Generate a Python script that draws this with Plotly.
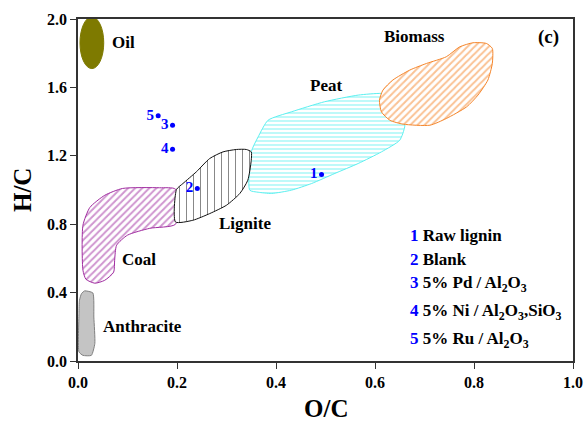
import plotly.graph_objects as go

# ---- Data -----------------------------------------------------------------
# Region outlines (O/C, H/C)
peat_x = [0.347, 0.350, 0.364, 0.384, 0.431, 0.498, 0.566, 0.613, 0.640, 0.660, 0.660, 0.650, 0.613, 0.566, 0.519, 0.472, 0.431, 0.391, 0.364]
peat_y = [0.999, 1.223, 1.311, 1.408, 1.457, 1.516, 1.555, 1.565, 1.555, 1.438, 1.369, 1.291, 1.223, 1.155, 1.097, 1.038, 0.999, 0.980, 0.987]

biomass_x = [0.609, 0.613, 0.630, 0.657, 0.711, 0.744, 0.785, 0.808, 0.828, 0.837, 0.837, 0.825, 0.798, 0.771, 0.744, 0.704, 0.670, 0.636, 0.616]
biomass_y = [1.525, 1.457, 1.408, 1.385, 1.379, 1.418, 1.486, 1.555, 1.643, 1.740, 1.828, 1.857, 1.861, 1.837, 1.779, 1.740, 1.701, 1.643, 1.584]

coal_x = [0.010, 0.024, 0.054, 0.090, 0.165, 0.197, 0.197, 0.145, 0.100, 0.078, 0.074, 0.072, 0.054, 0.034, 0.016, 0.010]
coal_y = [0.794, 0.898, 0.969, 1.009, 1.013, 1.005, 0.800, 0.776, 0.736, 0.677, 0.589, 0.519, 0.472, 0.455, 0.478, 0.531]

lignite_x = [0.197, 0.232, 0.266, 0.300, 0.327, 0.343, 0.350, 0.350, 0.340, 0.320, 0.293, 0.266, 0.239, 0.212, 0.199]
lignite_y = [0.813, 0.823, 0.862, 0.911, 0.980, 1.057, 1.174, 1.223, 1.237, 1.237, 1.223, 1.184, 1.106, 1.038, 1.003]

anthracite_x = [0.007, 0.0135, 0.030, 0.032, 0.034, 0.027, 0.010, 0.002, 0.002, 0.003]
anthracite_y = [0.394, 0.410, 0.398, 0.257, 0.102, 0.033, 0.033, 0.053, 0.277, 0.355]

oil_box = [0.004, 1.71, 0.052, 2.012]  # x0, y0, x1, y1 of the ellipse

# Samples
sample_labels = ["1", "2", "3", "4", "5"]
sample_oc = [0.492, 0.241, 0.191, 0.191, 0.162]
sample_hc = [1.091, 1.009, 1.379, 1.239, 1.434]
sample_names = ["Raw lignin", "Blank", "5% Pd / Al<sub>2</sub>O<sub>3</sub>",
                "5% Ni / Al<sub>2</sub>O<sub>3</sub>,SiO<sub>3</sub>",
                "5% Ru / Al<sub>2</sub>O<sub>3</sub>"]
legend_y = [0.736, 0.593, 0.453, 0.287, 0.121]

FONT = "Liberation Serif"

fig = go.Figure()

def region(x, y, color, shape, size, solidity, lw=1.0):
    fig.add_trace(go.Scatter(
        x=x + [x[0]], y=y + [y[0]], mode="lines", fill="toself",
        line=dict(color=color, width=lw, shape="spline", smoothing=0.6),
        fillcolor="white",
        fillpattern=dict(shape=shape, fgcolor=color, bgcolor="white",
                         size=size, solidity=solidity),
        hoverinfo="skip", showlegend=False))

region(peat_x, peat_y, "#5cf0f0", "-", 4, 0.4)
region(biomass_x, biomass_y, "#f5852a", "/", 5, 0.4)
region(coal_x, coal_y, "#a02ca0", "/", 5, 0.4)
region(lignite_x, lignite_y, "#111111", "|", 7, 0.15)

fig.add_trace(go.Scatter(
    x=anthracite_x + [anthracite_x[0]], y=anthracite_y + [anthracite_y[0]],
    mode="lines", fill="toself", fillcolor="#c4c4c4",
    line=dict(color="#808080", width=1, shape="spline", smoothing=0.5),
    hoverinfo="skip", showlegend=False))

fig.add_shape(type="circle", xref="x", yref="y",
              x0=oil_box[0], y0=oil_box[1], x1=oil_box[2], y1=oil_box[3],
              fillcolor="#7e7a00", line=dict(color="#7e7a00", width=1))

fig.add_trace(go.Scatter(
    x=sample_oc, y=sample_hc, mode="markers+text",
    text=sample_labels, textposition="middle left",
    textfont=dict(family=FONT, size=15, color="#0000ff", weight="bold"),
    marker=dict(color="#0000ff", size=5), showlegend=False, hoverinfo="skip"))

def label(text, x, y, anchor="left", size=17):
    fig.add_annotation(text=text, x=x, y=y, xref="x", yref="y",
                       xanchor=anchor, yanchor="middle", showarrow=False,
                       font=dict(family=FONT, size=size, color="black", weight="bold"))

label("Oil", 0.064, 1.86)
label("Biomass", 0.680, 1.896, "center")
label("Peat", 0.502, 1.613, "center")
label("Lignite", 0.280, 0.804)
label("Coal", 0.085, 0.591)
label("Anthracite", 0.047, 0.203)
label("(c)", 0.950, 1.896, "center", 19)

for lab, name, yy in zip(sample_labels, sample_names, legend_y):
    fig.add_annotation(
        text=f"<span style='color:#0000ff'>{lab}</span> {name}",
        x=0.667, y=yy, xref="x", yref="y", xanchor="left", yanchor="middle",
        showarrow=False, font=dict(family=FONT, size=17, color="black", weight="bold"))

# Axis titles
fig.add_annotation(text="O/C", x=0.5, y=-0.14, xref="paper", yref="paper",
                   xanchor="center", yanchor="middle", showarrow=False,
                   font=dict(family=FONT, size=25, color="black", weight="bold"))
fig.add_annotation(text="H/C", x=-0.113, y=0.5, xref="paper", yref="paper",
                   xanchor="center", yanchor="middle", showarrow=False, textangle=-90,
                   font=dict(family=FONT, size=25, color="black", weight="bold"))

axis_common = dict(showline=True, mirror=True, linecolor="#333333", linewidth=1.5,
                   ticks="outside", ticklen=6, tickwidth=1.2, tickcolor="#333333",
                   showgrid=False, zeroline=False, automargin=False,
                   tickfont=dict(family=FONT, size=16, color="black", weight="bold"))

fig.update_layout(
    width=585, height=423,
    margin=dict(l=78, r=12, t=19, b=62),
    paper_bgcolor="white", plot_bgcolor="white",
    xaxis=dict(range=[0, 1], dtick=0.2, tickformat=".1f", **axis_common),
    yaxis=dict(range=[0, 2], dtick=0.4, tickformat=".1f", **axis_common),
)

fig.write_html("out.html", config={"displayModeBar": False},
               post_script="document.body.style.margin='0';")
